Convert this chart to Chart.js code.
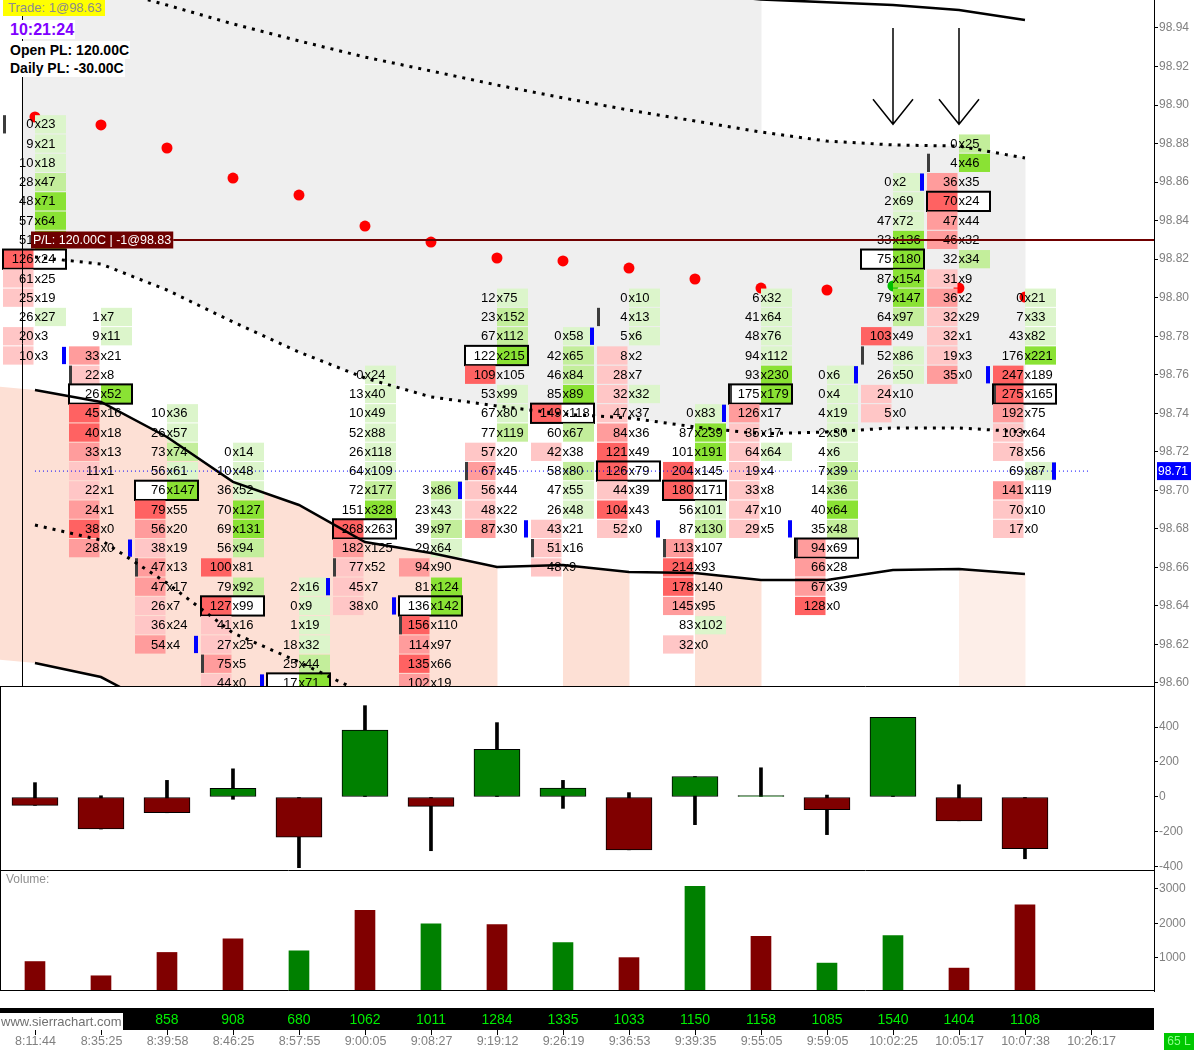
<!DOCTYPE html>
<html lang="en">
<head>
<meta charset="UTF-8">
<title>Footprint - 98.71</title>
<script src="https://cdn.jsdelivr.net/npm/chart.js@4.4.1/dist/chart.umd.min.js"></script>
<style>
    body { margin: 0; background: #fff; }
    #wrap { position: relative; width: 1194px; height: 1050px; overflow: hidden; font-family: "Liberation Sans", Arial, sans-serif; }
    #wrap canvas { position: absolute; left: 0; }
    .info { position: absolute; background: #fff; white-space: nowrap; color: #000; }
</style>
</head>
<body>
<div id="wrap">
    <canvas id="priceChart" width="1194" height="687" style="top:0"></canvas>
    <canvas id="deltaChart" width="1194" height="184" style="top:687px"></canvas>
    <canvas id="volumeChart" width="1194" height="179" style="top:871px"></canvas>
    <div class="info" style="left:3px;top:0;height:16px;line-height:16px;padding:0 3px 0 5px;background:#ffff00;color:#8c8c8c;font-size:13px">Trade: 1@98.63</div>
    <div class="info" style="left:9px;top:20px;line-height:19px;padding:0 1px;color:#8000ff;font-weight:bold;font-size:16px">10:21:24</div>
    <div class="info" style="left:9px;top:41px;line-height:18px;padding:0 1px;font-weight:bold;font-size:14px">Open PL: 120.00C</div>
    <div class="info" style="left:9px;top:59px;line-height:18px;padding:0 1px;font-weight:bold;font-size:14px">Daily PL: -30.00C</div>
</div>

<script>
// ---- bars ----
const barTimes = ['8:11:44', '8:35:25', '8:39:58', '8:46:25', '8:57:55', '9:00:05', '9:08:27', '9:19:12',
    '9:26:19', '9:36:53', '9:39:35', '9:55:05', '9:59:05', '10:02:25', '10:05:17', '10:07:38', '10:26:17'];
const bandNumbers = [null, null, 858, 908, 680, 1062, 1011, 1284, 1335, 1033, 1150, 1158, 1085, 1540, 1404, 1108];

const TICK = 0.01;
// highest price row of every bar, then bid / ask volume per row going down
const barHigh = [98.89, 98.79, 98.74, 98.72, 98.65, 98.76, 98.70, 98.80, 98.78, 98.80, 98.74, 98.80, 98.76, 98.86, 98.88, 98.80];
const barOpen = [98.89, 98.76, 98.66, 98.61, 98.59, 98.66, 98.63, 98.71, 98.67, 98.79, 98.67, 98.75, 98.67, 98.77, 98.87, 98.75];
const barClose = [98.77, 98.67, 98.62, 98.60, 98.65, 98.64, 98.70, 98.68, 98.78, 98.68, 98.74, 98.68, 98.76, 98.86, 98.76, 98.71];
const bidVol = [
    [0, 9, 10, 28, 48, 57, 51, 126, 61, 25, 26, 20, 10],
    [1, 9, 33, 22, 26, 45, 40, 33, 11, 22, 24, 38, 28],
    [10, 26, 73, 56, 76, 79, 56, 38, 47, 47, 26, 36, 54],
    [0, 10, 36, 70, 69, 56, 100, 79, 127, 41, 27, 75, 44],
    [2, 0, 1, 18, 25, 17],
    [0, 13, 10, 52, 26, 64, 72, 151, 268, 182, 77, 45, 38],
    [3, 23, 39, 29, 94, 81, 136, 156, 114, 135, 102],
    [12, 23, 67, 122, 109, 53, 67, 77, 57, 67, 56, 48, 87],
    [0, 42, 46, 85, 149, 60, 42, 58, 47, 26, 43, 51, 48],
    [0, 4, 5, 8, 28, 32, 47, 84, 121, 126, 44, 104, 52],
    [0, 87, 101, 204, 180, 56, 87, 113, 214, 178, 145, 83, 32],
    [6, 41, 48, 94, 93, 175, 126, 35, 64, 19, 33, 47, 29],
    [0, 0, 4, 2, 4, 7, 14, 40, 35, 94, 66, 67, 128],
    [0, 2, 47, 33, 75, 87, 79, 64, 103, 52, 26, 24, 5],
    [0, 4, 36, 70, 47, 46, 32, 31, 36, 32, 32, 19, 35],
    [0, 7, 43, 176, 247, 275, 192, 103, 78, 69, 141, 70, 17]
];
const askVol = [
    [23, 21, 18, 47, 71, 64, 78, 24, 25, 19, 27, 3, 3],
    [7, 11, 21, 8, 52, 16, 18, 13, 1, 1, 1, 0, 0],
    [36, 57, 74, 61, 147, 55, 20, 19, 13, 17, 7, 24, 4],
    [14, 48, 52, 127, 131, 94, 81, 92, 99, 16, 25, 5, 0],
    [16, 9, 19, 32, 44, 71],
    [24, 40, 49, 88, 118, 109, 177, 328, 263, 125, 52, 7, 0],
    [86, 43, 97, 64, 90, 124, 142, 110, 97, 66, 19],
    [75, 152, 112, 215, 105, 99, 80, 119, 20, 45, 44, 22, 30],
    [58, 65, 84, 89, 118, 67, 38, 80, 55, 48, 21, 16, 9],
    [10, 13, 6, 2, 7, 32, 37, 36, 49, 79, 39, 43, 0],
    [83, 239, 191, 145, 171, 101, 130, 107, 93, 140, 95, 102, 0],
    [32, 64, 76, 112, 230, 179, 17, 17, 64, 4, 8, 10, 5],
    [6, 4, 19, 30, 6, 39, 36, 64, 48, 69, 28, 39, 0],
    [2, 69, 72, 136, 180, 154, 147, 97, 49, 86, 50, 10, 0],
    [25, 46, 35, 24, 44, 32, 34, 9, 2, 29, 1, 3, 0],
    [21, 33, 82, 221, 189, 165, 75, 64, 56, 87, 119, 10, 0]
];

// ---- bands (first value is the bar before the first visible one) ----
const bandBars = [-1, 0, 1, 2, 3, 4, 5, 6, 7, 8, 9, 10, 11, 12, 13, 14, 15];
const upperOuter = [99.02, 99.01, 99.0, 98.995, 98.99, 98.985, 98.98, 98.975, 98.97, 98.966, 98.962, 98.958, 98.9548, 98.9534, 98.9519, 98.9493, 98.9442];
const upperInner = [98.98, 98.9706, 98.9613, 98.9519, 98.9421, 98.9333, 98.9249, 98.9177, 98.9104, 98.9037, 98.8974, 98.8917, 98.886, 98.8813, 98.8793, 98.8787, 98.8725];
const lowerInner = [98.8222, 98.8211, 98.8175, 98.804, 98.7874, 98.7718, 98.7583, 98.7485, 98.7438, 98.7396, 98.7376, 98.7329, 98.7293, 98.7303, 98.7324, 98.7324, 98.7303];
const lowerMid = [98.7552, 98.7521, 98.7459, 98.7277, 98.7044, 98.6924, 98.6732, 98.6675, 98.6602, 98.6613, 98.6576, 98.6571, 98.6535, 98.6535, 98.6587, 98.6592, 98.6566];
const lowerDotted = [null, 98.682, 98.6742, 98.6519, 98.626, 98.6109, 98.5943, 98.585, null, null, null, null, null, null, null, null, null];
const lowerOuter = [98.6135, 98.6104, 98.6031, 98.585, null, null, null, null, null, null, null, null, null, null, null, null, null];
// per segment bandBars[k] -> bandBars[k+1]
const upperFillOn = [1, 1, 1, 1, 1, 1, 1, 1, 1, 1, 1, 1, 0, 0, 0, 0];
const lowerFillKind = [1, 1, 1, 1, 1, 1, 1, 1, 0, 1, 0, 1, 0, 0, 0, 2];

const sarValues = [98.8938, 98.8897, 98.8777, 98.8621, 98.8533, 98.8372, 98.8289, 98.8206, 98.8191, 98.8154, 98.8097, 98.805, 98.804, 98.8061, 98.805, 98.8003];
const greenDotBar = 13;

const priceTicks = [98.60, 98.62, 98.64, 98.66, 98.68, 98.70, 98.72, 98.74, 98.76, 98.78, 98.80, 98.82, 98.84, 98.86, 98.88, 98.90, 98.92, 98.94];
const lastPrice = 98.71;
const plPrice = 98.83;
const plText = 'P/L: 120.00C | -1@98.83';
const tradeMarkBar = -0.2;
const arrowBars = [13, 14];
const arrowTop = 98.94, arrowTip = 98.89;

// ---- lower panels ----
const deltaClose = [-48, -183, -90, 50, -229, 382, -54, 273, 51, -302, 117, 8, -73, 455, -136, -296];
const deltaHigh = [82, 7, 95, 161, 0, 522, 0, 425, 95, 25, 117, 167, 11, 455, 70, 0];
const deltaLow = [-48, -183, -90, -13, -404, 0, -307, 0, -65, -302, -158, 0, -215, 0, -136, -353];
const deltaTicks = [400, 200, 0, -200, -400];
const volume = [894, 481, 1158, 1551, 1203, 2378, 1986, 1963, 1445, 1008, 3077, 1628, 849, 1649, 704, 2540];
const volumeTicks = [1000, 2000, 3000];

const FONT = '"Liberation Sans", Arial, sans-serif';
const UP = '#008000', DOWN = '#800000';
const GREEN_SHADES = ['#dcf5cb', '#c3ee9b', '#8ae234'];
const RED_SHADES = ['#ffc6c6', '#ff9c9c', '#ff6262'];
const shade = (set, t) => set[t >= 0.745 ? 2 : t >= 0.5 ? 1 : 0];

Chart.defaults.font.family = FONT;
const xAxis = { type: 'linear', min: -0.53, max: 16.955, display: false, offset: false };

function rightAxis(min, max, ticks, fmt) {
    return {
        type: 'linear', position: 'right', min: min, max: max,
        afterBuildTicks: s => { s.ticks = ticks.map(v => ({ value: v })); },
        afterFit: s => { s.width = 40; s.paddingTop = 0; s.paddingBottom = 0; },
        grid: { drawOnChartArea: false, tickLength: 4, color: '#000' },
        border: { display: true, color: '#000' },
        ticks: { color: '#808080', font: { size: 12 }, padding: 1, autoSkip: false, maxRotation: 0, callback: fmt }
    };
}

const baseOptions = {
    responsive: false, animation: false, events: [],
    layout: { padding: 0, autoPadding: false },
    plugins: { legend: { display: false }, tooltip: { enabled: false } }
};

function lineSet(label, values, dotted) {
    return {
        label: label, type: 'line', order: 1,
        data: values.map((v, k) => ({ x: bandBars[k], y: v })),
        borderColor: '#000', borderWidth: dotted ? 3 : 2.5,
        borderDash: dotted ? [3, 6] : [], pointRadius: 0, tension: 0,
        segment: { borderColor: c => c.p0DataIndex === 0 ? 'transparent' : undefined }
    };
}

// band fills drawn under everything
const bandFill = {
    id: 'bandFill',
    beforeDatasetsDraw(chart) {
        const { ctx, chartArea: a, scales: { x, y } } = chart;
        const py = (v, fb) => v == null ? fb : y.getPixelForValue(v);
        const poly = (topArr, botArr, k) => {
            const x0 = x.getPixelForValue(bandBars[k]), x1 = x.getPixelForValue(bandBars[k + 1]) + 0.5;
            ctx.beginPath();
            ctx.moveTo(x0, py(topArr[k], a.top - 5));
            ctx.lineTo(x1, py(topArr[k + 1], a.top - 5));
            ctx.lineTo(x1, py(botArr[k + 1], a.bottom + 5));
            ctx.lineTo(x0, py(botArr[k], a.bottom + 5));
            ctx.closePath();
            ctx.fill();
        };
        ctx.save();
        ctx.beginPath();
        ctx.rect(a.left, a.top, a.width, a.height);
        ctx.clip();
        ctx.save();
        ctx.beginPath();
        const gx = x.getPixelForValue(tradeMarkBar);
        ctx.rect(gx, a.top, a.right - gx, a.height);
        ctx.clip();
        ctx.fillStyle = '#efefef';
        for (let k = 0; k < bandBars.length - 1; k++) {
            poly(upperFillOn[k] ? upperOuter : upperInner, lowerInner, k);
        }
        ctx.restore();
        for (let k = 0; k < bandBars.length - 1; k++) {
            if (!lowerFillKind[k]) continue;
            ctx.fillStyle = lowerFillKind[k] === 2 ? '#fdeee8' : '#fde0d5';
            poly(lowerMid, lowerOuter, k);
        }
        ctx.restore();
    }
};

// bid x ask cells, drawn right after the dots so the lines stay on top
const footprint = {
    id: 'footprint',
    afterDatasetDraw(chart, args) {
        if (chart.data.datasets[args.index].label !== 'sar') return;
        const { ctx, chartArea: a, scales: { x, y } } = chart;
        const rowH = Math.abs(y.getPixelForValue(98.70) - y.getPixelForValue(98.71));
        ctx.save();
        ctx.beginPath();
        ctx.rect(a.left, a.top, a.width, a.height);
        ctx.clip();
        ctx.font = '13px ' + FONT;
        ctx.textBaseline = 'middle';
        barHigh.forEach((hi, i) => {
            const cx = Math.round(x.getPixelForValue(i));
            const bids = bidVol[i], asks = askVol[i];
            const maxB = Math.max(...bids), maxA = Math.max(...asks);
            const tot = bids.map((b, r) => b + asks[r]);
            const poc = tot.indexOf(Math.max(...tot));
            bids.forEach((b, r) => {
                const ask = asks[r];
                const price = hi - r * TICK;
                const cy = y.getPixelForValue(price);
                const top = cy - rowH / 2 + 0.5, h = rowH - 1;
                if (r === poc) { ctx.fillStyle = '#fff'; ctx.fillRect(cx - 32, top, 63, h); }
                if (b >= ask) { ctx.fillStyle = shade(RED_SHADES, b / maxB); ctx.fillRect(cx - 32, top, 30.5, h); }
                if (ask >= b) { ctx.fillStyle = shade(GREEN_SHADES, ask / maxA); ctx.fillRect(cx, top, 31, h); }
                if (Math.abs(price - barOpen[i]) < 0.001) { ctx.fillStyle = '#3c3c3c'; ctx.fillRect(cx - 32, top, 3, h); }
                if (Math.abs(price - barClose[i]) < 0.001) { ctx.fillStyle = '#0000ff'; ctx.fillRect(cx + 27, top + 0.5, 4, h - 1); }
                if (r === poc) {
                    ctx.strokeStyle = '#000';
                    ctx.lineWidth = 2;
                    ctx.strokeRect(cx - 32, top - 0.5, 63, h + 1);
                }
                ctx.fillStyle = '#000';
                ctx.textAlign = 'right';
                ctx.fillText(String(b), cx - 1.5, cy + 0.5);
                ctx.textAlign = 'left';
                ctx.fillText('x' + ask, cx - 0.5, cy + 0.5);
            });
        });
        ctx.restore();
    }
};

const priceOverlay = {
    id: 'priceOverlay',
    afterDatasetsDraw(chart) {
        const { ctx, chartArea: a, scales: { x, y } } = chart;
        ctx.save();
        // trade marker line
        const tx = Math.round(x.getPixelForValue(tradeMarkBar)) + 0.5;
        ctx.strokeStyle = '#000';
        ctx.lineWidth = 1;
        ctx.beginPath();
        ctx.moveTo(tx, a.top);
        ctx.lineTo(tx, a.bottom);
        ctx.stroke();
        // arrows
        ctx.lineWidth = 1.5;
        arrowBars.forEach(b => {
            const ax = Math.round(x.getPixelForValue(b));
            const y0 = y.getPixelForValue(arrowTop), y1 = y.getPixelForValue(arrowTip);
            ctx.beginPath();
            ctx.moveTo(ax, y0);
            ctx.lineTo(ax, y1);
            ctx.moveTo(ax - 20, y1 - 25);
            ctx.lineTo(ax, y1);
            ctx.lineTo(ax + 20, y1 - 25);
            ctx.stroke();
        });
        // open P/L line and label
        const py = Math.round(y.getPixelForValue(plPrice));
        ctx.font = '12.5px ' + FONT;
        const lx = Math.round(x.getPixelForValue(0)) - 4;
        const lw = ctx.measureText(plText).width + 4;
        ctx.strokeStyle = '#700000';
        ctx.lineWidth = 2;
        ctx.beginPath();
        ctx.moveTo(lx + lw, py);
        ctx.lineTo(a.right, py);
        ctx.stroke();
        ctx.fillStyle = '#6e0000';
        ctx.fillRect(lx, py - 8.5, lw, 17);
        ctx.fillStyle = '#fff';
        ctx.textBaseline = 'middle';
        ctx.textAlign = 'left';
        ctx.fillText(plText, lx + 2, py + 0.5);
        // panel bottom border
        ctx.strokeStyle = '#000';
        ctx.lineWidth = 1;
        ctx.beginPath();
        ctx.moveTo(a.left, a.bottom - 0.5);
        ctx.lineTo(a.right, a.bottom - 0.5);
        ctx.stroke();
        ctx.restore();
    },
    afterDraw(chart) {
        const { ctx, chartArea: a, scales: { y } } = chart;
        const py = y.getPixelForValue(lastPrice);
        ctx.save();
        ctx.fillStyle = '#0000ff';
        ctx.fillRect(a.right + 3, py - 9, 34, 18);
        ctx.fillStyle = '#fff';
        ctx.font = '12px ' + FONT;
        ctx.textBaseline = 'middle';
        ctx.textAlign = 'left';
        ctx.fillText(lastPrice.toFixed(2), a.right + 4, py + 0.5);
        ctx.restore();
    }
};

new Chart(document.getElementById('priceChart'), {
    type: 'line',
    data: {
        datasets: [
            lineSet('outerUpper', upperOuter, false),
            lineSet('upperDots', upperInner, true),
            lineSet('lowerDots', lowerInner, true),
            lineSet('lowerMid', lowerMid, false),
            lineSet('lowerDots2', lowerDotted, true),
            lineSet('outerLower', lowerOuter, false),
            {
                label: 'sar', type: 'line', order: 5, showLine: false,
                data: sarValues.map((v, i) => ({ x: i, y: v })),
                pointRadius: 5.5, pointBorderWidth: 0,
                pointBackgroundColor: sarValues.map((v, i) => i === greenDotBar ? '#00c000' : '#ff0000')
            },
            {
                label: 'last', type: 'line', order: 0,
                data: [{ x: 0, y: lastPrice }, { x: barTimes.length - 1, y: lastPrice }],
                borderColor: '#0000ff', borderWidth: 1, borderDash: [1, 3], pointRadius: 0
            }
        ]
    },
    options: Object.assign({}, baseOptions, {
        scales: { x: xAxis, y: rightAxis(98.59792, 98.95453, priceTicks, v => Number(v).toFixed(2)) }
    }),
    plugins: [bandFill, footprint, priceOverlay]
});

const panelFrame = {
    id: 'panelFrame',
    afterDraw(chart) {
        const { ctx, chartArea: a } = chart;
        ctx.save();
        ctx.strokeStyle = '#000';
        ctx.lineWidth = 1;
        ctx.beginPath();
        ctx.moveTo(a.left + 0.5, a.top);
        ctx.lineTo(a.left + 0.5, a.bottom);
        ctx.moveTo(a.left, a.bottom - 0.5);
        ctx.lineTo(a.right, a.bottom - 0.5);
        ctx.stroke();
        ctx.restore();
    }
};

new Chart(document.getElementById('deltaChart'), {
    type: 'bar',
    data: {
        datasets: [
            {
                order: 1, grouped: false, barThickness: 46,
                data: deltaClose.map((c, i) => ({ x: i, y: [0, c] })),
                backgroundColor: deltaClose.map(c => c >= 0 ? UP : DOWN),
                borderColor: '#000', borderWidth: 1, borderSkipped: false
            },
            {
                order: 2, grouped: false, barThickness: 3,
                data: deltaHigh.map((h, i) => ({ x: i, y: [deltaLow[i], h] })),
                backgroundColor: '#000'
            }
        ]
    },
    options: Object.assign({}, baseOptions, {
        scales: { x: xAxis, y: rightAxis(-422.9, 628.6, deltaTicks, v => String(v)) }
    }),
    plugins: [panelFrame]
});

const bottomStrip = {
    id: 'bottomStrip',
    afterDraw(chart) {
        const { ctx, chartArea: a, scales: { x } } = chart;
        const bandTop = a.bottom + 17, bandH = 22;
        ctx.save();
        ctx.fillStyle = '#909090';
        ctx.font = '12px ' + FONT;
        ctx.textBaseline = 'top';
        ctx.textAlign = 'left';
        ctx.fillText('Volume:', 6, a.top + 3);

        ctx.fillStyle = '#000';
        ctx.fillRect(0, bandTop, a.right, bandH);
        ctx.font = '14px ' + FONT;
        ctx.fillStyle = '#00ee00';
        ctx.textAlign = 'center';
        ctx.textBaseline = 'middle';
        bandNumbers.forEach((n, i) => {
            if (n != null) ctx.fillText(String(n), x.getPixelForValue(i), bandTop + bandH / 2 + 1);
        });
        ctx.fillStyle = '#fff';
        ctx.fillRect(0, bandTop + 5, 123, bandH - 5);
        ctx.fillStyle = '#707070';
        ctx.font = '13px ' + FONT;
        ctx.textAlign = 'left';
        ctx.fillText('www.sierrachart.com', 1, bandTop + 14);

        ctx.strokeStyle = '#000';
        ctx.lineWidth = 1;
        ctx.fillStyle = '#808080';
        ctx.font = '12.5px ' + FONT;
        ctx.textAlign = 'center';
        barTimes.forEach((t, i) => {
            const tx = Math.round(x.getPixelForValue(i)) + 0.5;
            ctx.beginPath();
            ctx.moveTo(tx, bandTop + bandH);
            ctx.lineTo(tx, bandTop + bandH + 5);
            ctx.stroke();
            ctx.fillText(t, tx, bandTop + bandH + 12);
        });

        ctx.fillStyle = '#00c800';
        ctx.fillRect(a.right + 10, bandTop + bandH + 3, 30, 17);
        ctx.fillStyle = '#8dff8d';
        ctx.font = '12px ' + FONT;
        ctx.fillText('65 L', a.right + 25, bandTop + bandH + 12);
        ctx.restore();
    }
};

new Chart(document.getElementById('volumeChart'), {
    type: 'bar',
    data: {
        datasets: [{
            grouped: false, barThickness: 20,
            data: volume.map((v, i) => ({ x: i, y: v })),
            backgroundColor: volume.map((v, i) => barClose[i] >= barOpen[i] ? UP : DOWN)
        }]
    },
    options: Object.assign({}, baseOptions, {
        layout: { padding: { bottom: 59 }, autoPadding: false },
        scales: { x: xAxis, y: rightAxis(40, 3520, volumeTicks, v => String(v)) }
    }),
    plugins: [panelFrame, bottomStrip]
});
</script>
</body>
</html>
